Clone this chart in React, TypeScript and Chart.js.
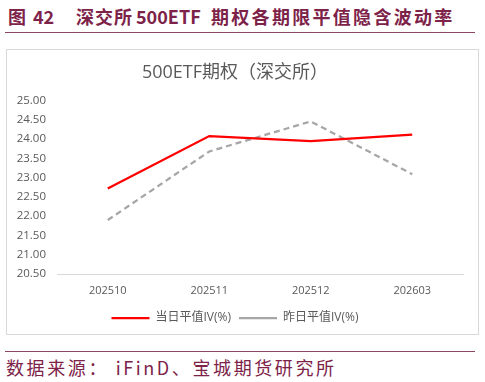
import React, { useEffect, useRef } from "react";
import { Chart, registerables } from "chart.js";

Chart.register(...registerables);

const categories = ["202510", "202511", "202512", "202603"];
const todayIV = [22.72, 24.08, 23.95, 24.12];
const yesterdayIV = [21.9, 23.68, 24.46, 23.09];
const seriesNames = ["当日平值IV(%)", "昨日平值IV(%)"];
const chartTitle = "500ETF期权（深交所）";

const MAROON = "#7d2248";
const TEXT = "#595959";

export default function App() {
  const ref = useRef<HTMLCanvasElement | null>(null);

  useEffect(() => {
    document.body.style.margin = "0";
    const canvas = ref.current;
    if (!canvas) return;
    const chart = new Chart(canvas, {
      type: "line",
      data: {
        labels: categories,
        datasets: [
          {
            label: seriesNames[0],
            data: todayIV,
            borderColor: "#ff0000",
            backgroundColor: "#ff0000",
            borderWidth: 2.25,
            pointRadius: 0,
            tension: 0,
          },
          {
            label: seriesNames[1],
            data: yesterdayIV,
            borderColor: "#a6a6a6",
            backgroundColor: "#a6a6a6",
            borderWidth: 2.25,
            borderDash: [6, 4],
            pointRadius: 0,
            tension: 0,
          },
        ],
      },
      options: {
        animation: false,
        responsive: false,
        maintainAspectRatio: false,
        layout: { padding: { left: 0, right: 15, top: 0, bottom: 0 } },
        plugins: {
          tooltip: { enabled: false },
          title: {
            display: true,
            text: chartTitle,
            color: TEXT,
            font: { family: "'Open Sans', 'Noto Sans CJK SC', sans-serif", size: 18, weight: "normal" },
            padding: { top: 12, bottom: 17 },
          },
          legend: {
            display: true,
            position: "bottom",
            labels: {
              color: TEXT,
              font: { family: "'Open Sans', 'Noto Sans CJK SC', sans-serif", size: 12 },
              usePointStyle: true,
              pointStyle: "line",
              pointStyleWidth: 38,
              boxWidth: 38,
              boxHeight: 12,
              padding: 8,
            },
          },
        },
        scales: {
          x: {
            offset: true,
            grid: { display: false, drawTicks: false, offset: true },
            border: { display: true, color: "#d9d9d9", width: 1 },
            ticks: {
              color: TEXT,
              padding: 10,
              font: { family: "'Open Sans', sans-serif", size: 11 },
            },
            afterFit: (s: any) => {
              s.height = 30;
            },
          },
          y: {
            min: 20.5,
            max: 25,
            grid: { display: false, drawTicks: false },
            border: { display: false },
            ticks: {
              stepSize: 0.5,
              color: TEXT,
              padding: 11,
              font: { family: "'Open Sans', sans-serif", size: 11.5 },
              callback: (v: any) => Number(v).toFixed(2),
            },
            afterFit: (s: any) => {
              s.width = 50;
            },
          },
        },
      },
    });
    return () => chart.destroy();
  }, []);

  const hFont = "'Noto Sans CJK SC', 'Noto Sans', sans-serif";

  return (
    <div style={{ position: "relative", width: 485, height: 382, background: "#fff", overflow: "hidden" }}>
      {/* Header title */}
      <div style={{ position: "absolute", left: 8, top: 5, fontFamily: hFont, fontWeight: 700, fontSize: 18, color: MAROON, whiteSpace: "nowrap", lineHeight: "22px" }}>
        <span style={{ position: "absolute", left: 0 }}>图</span>
        <span style={{ position: "absolute", left: 25 }}>42</span>
        <span style={{ position: "absolute", left: 68, letterSpacing: 1 }}>深交所</span>
        <span style={{ position: "absolute", left: 128 }}>500ETF</span>
        <span style={{ position: "absolute", left: 203, letterSpacing: 2.3 }}>期权各期限平值隐含波动率</span>
      </div>
      <div style={{ position: "absolute", left: 5, top: 32, width: 470, height: 0, borderTop: "1.5px solid #8d4868" }} />

      {/* Chart box */}
      <div style={{ position: "absolute", left: 6, top: 49, width: 471, height: 284, border: "1px solid #d9d9d9" }}>
        <canvas ref={ref} width={471} height={284} style={{ display: "block", width: 471, height: 284 }} />
      </div>

      {/* Footer */}
      <div style={{ position: "absolute", left: 5, top: 351, width: 470, height: 0, borderTop: "1.5px solid #8d4868" }} />
      <div style={{ position: "absolute", left: 6, top: 356, fontFamily: hFont, fontWeight: 400, fontSize: 18, color: MAROON, whiteSpace: "nowrap", lineHeight: "22px", letterSpacing: 2.6 }}>
        数据来源：&nbsp;iFinD、宝城期货研究所
      </div>
    </div>
  );
}
